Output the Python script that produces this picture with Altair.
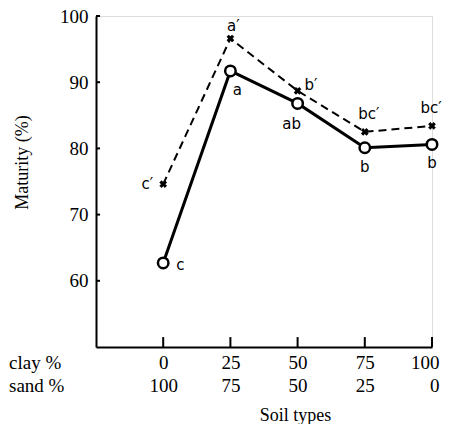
import altair as alt
import pandas as pd

clay = [0, 25, 50, 75, 100]
solid_vals = [62.7, 91.7, 86.8, 80.1, 80.6]
dashed_vals = [74.6, 96.6, 88.7, 82.5, 83.4]
solid_labels = ["c", "a", "ab", "b", "b"]
dashed_labels = ["c\u2032", "a\u2032", "b\u2032", "bc\u2032", "bc\u2032"]
y_ticks = [60, 70, 80, 90, 100]
row_names = ["clay %", "sand %"]

SERIF = "Liberation Serif"

solid = pd.DataFrame({"clay": clay, "val": solid_vals, "lab": solid_labels})
dashed = pd.DataFrame({"clay": clay, "val": dashed_vals, "lab": dashed_labels})

xs = alt.Scale(domain=[-25, 100], nice=False, zero=False)
ys = alt.Scale(domain=[50, 100], nice=False, zero=False)

X = alt.X("clay:Q", scale=xs, axis=alt.Axis(
    values=clay, title="Soil   types",
    labelExpr="[datum.label, toString(100 - datum.value)]",
    labelLineHeight=23, labelPadding=6, labelFlush=True, labelFlushOffset=7,
    labelOverlap=False, labelFont=SERIF, titlePadding=11, titleX=199))
Y = alt.Y("val:Q", scale=ys, axis=alt.Axis(
    values=y_ticks, title="Maturity (%)", labelPadding=8, titlePadding=28,
    titleY=146, labelFont=SERIF))

base_s = alt.Chart(solid)
base_d = alt.Chart(dashed)

line_s = base_s.mark_line(color="black", strokeWidth=3).encode(x=X, y=Y)
line_d = base_d.mark_line(color="black", strokeWidth=2, strokeDash=[8, 5]).encode(x=X, y=Y)
pts_s = base_s.mark_point(shape="circle", size=110, filled=True, fill="white",
                          stroke="black", strokeWidth=2.5, opacity=1).encode(x=X, y=Y)
pts_d = base_d.mark_point(shape="cross", size=60, angle=45, filled=True,
                          color="black", opacity=1).encode(x=X, y=Y)

yt = pd.DataFrame({"v": y_ticks, "a": [-25] * 5, "b": [-23.5] * 5})
ytick = alt.Chart(yt).mark_rule(color="black", strokeWidth=2).encode(
    y=alt.Y("v:Q", scale=ys), x=alt.X("a:Q", scale=xs), x2="b:Q")
xt = pd.DataFrame({"v": clay, "a": [50] * 5, "b": [51.5] * 5})
xtick = alt.Chart(xt).mark_rule(color="black", strokeWidth=2).encode(
    x=alt.X("v:Q", scale=xs), y=alt.Y("a:Q", scale=ys), y2="b:Q")

def lab_layer(d, dx, dy, align="center"):
    return alt.Chart(d).mark_text(font="DejaVu Sans", fontSize=15, dx=dx, dy=dy,
                                  align=align, baseline="middle", color="black").encode(
        x=alt.X("clay:Q", scale=xs), y=alt.Y("val:Q", scale=ys), text="lab:N")

s_c = lab_layer(solid[solid.clay == 0], 13, 2, "left")
s_a = lab_layer(solid[solid.clay == 25], 7, 19)
s_ab = lab_layer(solid[solid.clay == 50], -6, 21)
s_b = lab_layer(solid[solid.clay >= 75], 0, 19)
d_c = lab_layer(dashed[dashed.clay == 0], -10, 0, "right")
d_a = lab_layer(dashed[dashed.clay == 25], 3, -13)
d_b = lab_layer(dashed[dashed.clay == 50], 7, -6, "left")
d_bc75 = lab_layer(dashed[dashed.clay == 75], 4, -18)
d_bc100 = lab_layer(dashed[dashed.clay == 100], -1, -18)

def row_layer(i, ypix):
    return alt.Chart(pd.DataFrame({"t": [row_names[i]]})).mark_text(
        font=SERIF, fontSize=19, align="left", baseline="middle", color="black").encode(
        x=alt.value(-87), y=alt.value(ypix), text="t:N")

chart = alt.layer(line_d, line_s, pts_d, pts_s, ytick, xtick,
                  s_c, s_a, s_ab, s_b, d_c, d_a, d_b, d_bc75, d_bc100,
                  row_layer(0, 347), row_layer(1, 370)).properties(
    width=336, height=331,
    autosize=alt.AutoSizeParams(type="none"),
    padding={"left": 88, "top": 8, "right": 10, "bottom": 77},
).configure_view(stroke=None).configure(background="white").configure_axis(
    grid=False, ticks=False, domainColor="black", domainWidth=2,
    labelFont=SERIF, labelFontSize=19, labelColor="black",
    titleFont=SERIF, titleFontSize=18, titleFontWeight="normal", titleColor="black")

chart.save("out.html", embed_options={"renderer": "svg", "actions": False})
